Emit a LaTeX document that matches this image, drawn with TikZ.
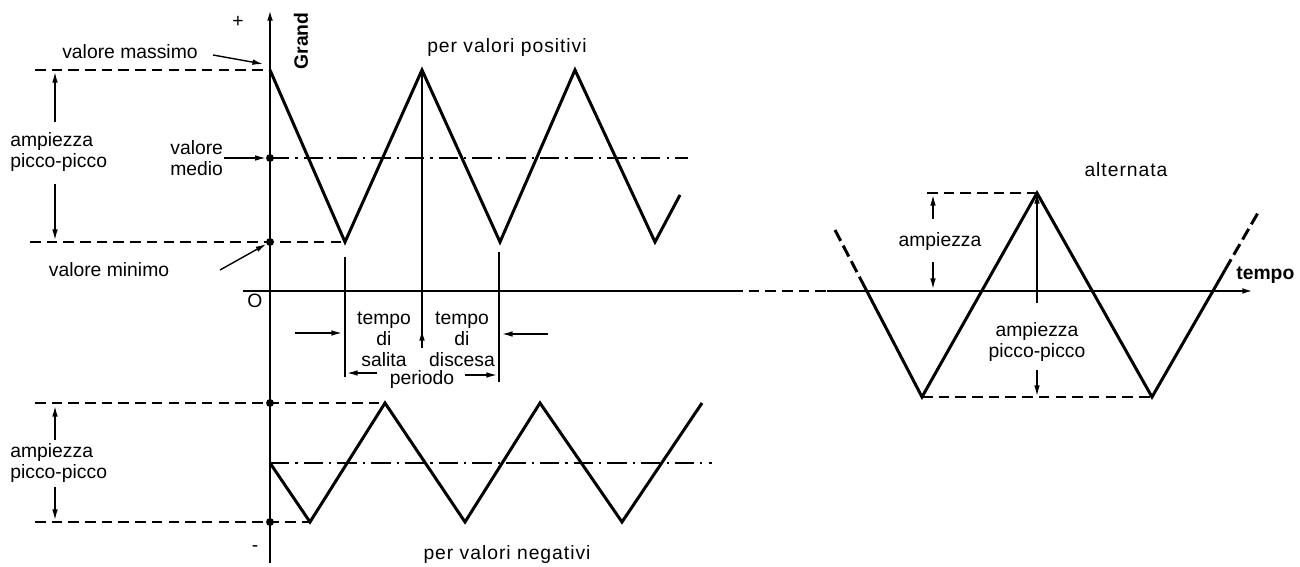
\documentclass[tikz,border=0pt]{standalone}
\usepackage{fontspec}
\setmainfont{Liberation Sans}
\newfontfamily\spacedfont[LetterSpace=5]{Liberation Sans}
\usetikzlibrary{arrows.meta}

\begin{document}
\begin{tikzpicture}[x=0.2mm, y=-0.2mm, >={Latex[length=6pt,width=3.2pt]},
    wave/.style={line width=1.7pt},
    axis/.style={line width=1.1pt},
    thin/.style={line width=0.8pt},
    guide/.style={line width=0.9pt, dash pattern=on 6pt off 3.5pt},
    middash/.style={line width=0.9pt, dash pattern=on 11pt off 3.5pt on 1.2pt off 3.5pt},
    brokenwave/.style={wave, dash pattern=on 7pt off 3pt},
    dot/.style={circle, fill, inner sep=0pt, minimum size=4.5pt},
    lbl/.style={font=\fontsize{11}{12}\selectfont, inner sep=0pt, align=center},
    title/.style={font=\spacedfont\fontsize{11}{12}\selectfont, inner sep=0pt},
    bold/.style={font=\bfseries\fontsize{11}{12}\selectfont, inner sep=0pt}]
  \useasboundingbox (0,0) rectangle (1300,567);

  % axes
  \draw[axis, ->] (270,563) -- (270,10) coordinate (ytop);
  \draw[axis] (243,291) coordinate (t0) -- (732,291) coordinate (gap0);
  \draw[axis, guide] (gap0) -- (827,291) coordinate (gap1);
  \draw[axis, ->] (gap1) -- (1253,291) coordinate (tend);
  \node[bold, rotate=90] (grand) at (301,41) {Grand};
  \node[bold, anchor=south west] (tempo) at (1236,284) {tempo};
  \node[lbl] (plus) at (238,22) {+};
  \node[lbl] (minus) at (255,549) {-};
  \node[lbl] (origin) at (255,301) {O};

  % positive values
  \node[title] (pos) at (507,48) {per valori positivi};
  \draw[wave] plot coordinates {(270,70) (345,242) (422,70) (500,242) (575,70) (655,242) (680,195)};
  \node[dot] (avg) at (270,158) {};
  \node[dot] (low) at (270,242) {};
  \draw[middash] (avg.center) -- (688,158);
  \draw[guide] (35,70) -- (265,70);
  \draw[guide] (30,242) -- (345,242);
  \node[lbl, align=left, anchor=west] (pp1) at (10,152) {ampiezza\\picco-picco};
  \draw[thin, ->] (55,122) -- (55,72);
  \draw[thin, ->] (55,184) -- (55,240);
  \node[lbl] (vmax) at (130,52) {valore massimo};
  \coordinate (pmax) at (263,64);
  \draw[thin, ->] (213,55) -- (pmax);
  \node[lbl, align=left, anchor=west] (vavg) at (170,158) {valore\\medio};
  \draw[thin, ->] (224,158) -- (avg);
  \node[lbl] (vmin) at (109,270) {valore minimo};
  \draw[thin, ->] (220,270) -- (low);

  % times
  \draw[thin] (345,257) -- (345,377) coordinate (pl);
  \draw[thin] (499,252) -- (499,382) coordinate (pr);
  \draw[thin] (422,72) -- (422,348);
  \draw[thin, ->] (422,348) -- (422,330);
  \draw[thin, ->] (295,333) -- (342,333);
  \draw[thin, ->] (548,334) -- (502,334);
  \node[lbl] (salita) at (384,339) {tempo\\di\\salita};
  \node[lbl] (discesa) at (462,339) {tempo\\di\\discesa};
  \node[lbl] (periodo) at (422,380) {periodo};
  \draw[thin, ->] (377,373) -- (347,373);
  \draw[thin, ->] (465,375) -- (497,375);

  % negative values
  \node[dot] (nmax) at (270,403) {};
  \node[dot] (nmin) at (270,522) {};
  \draw[guide] (35,403) -- (385,403);
  \draw[guide] (35,522) -- (310,522);
  \draw[middash] (270,463) -- (712,463);
  \draw[wave] plot coordinates {(270,463) (310,522) (385,403) (465,522) (540,403) (622,522) (702,403)};
  \node[lbl, align=left, anchor=west] (pp2) at (10,463) {ampiezza\\picco-picco};
  \draw[thin, ->] (55,440) -- (55,406);
  \draw[thin, ->] (55,487) -- (55,520);
  \node[title] (neg) at (507,555) {per valori negativi};

  % alternating
  \node[title] (alt) at (1126,170) {alternata};
  \draw[brokenwave] (835,230) -- (860,278);
  \draw[wave] (860,278) -- (922,397) -- (1037,193) coordinate (apeak) -- (1152,397) -- (1225,270);
  \draw[brokenwave] (1225,270) -- (1259,211);
  \draw[guide] (927,193) -- (apeak);
  \draw[guide] (922,397) -- (1152,397);
  \node[lbl] (amp) at (940,242) {ampiezza};
  \draw[thin, ->] (933,219) -- (933,195);
  \draw[thin, ->] (933,262) -- (933,289);
  \node[lbl] (pp3) at (1037,342) {ampiezza\\picco-picco};
  \draw[thin, ->] (1037,303) -- (apeak);
  \draw[thin, ->] (1037,370) -- (1037,396);
\end{tikzpicture}
\end{document}
